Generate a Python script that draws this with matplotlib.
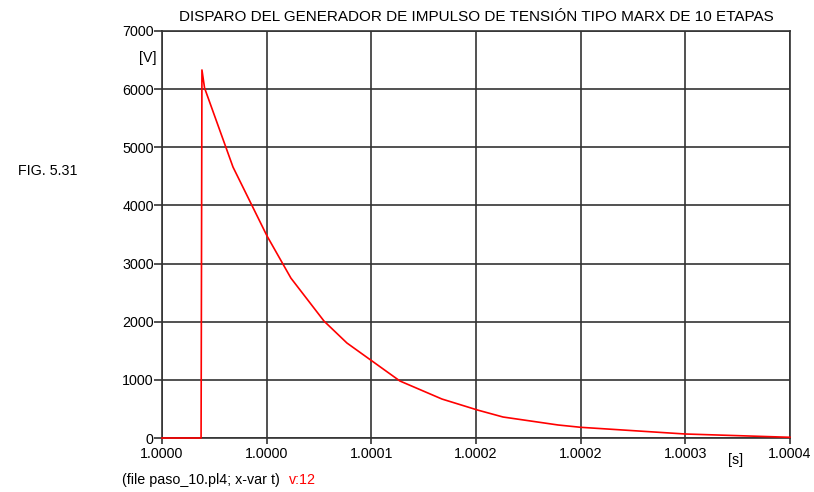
import matplotlib.pyplot as plt

plt.rcParams['font.family'] = ['Liberation Sans', 'DejaVu Sans']

# tiempo relativo (us desde el inicio de la ventana) y tension [V]
t_us = [0, 22.4, 22.9, 24.4, 40.7, 60.2, 73.9, 92.9, 106.0, 136.4, 160.5, 181.0,
        195.5, 227.0, 240.0, 299.8, 360.0]
v_volt = [0, 0, 6330, 6020, 4660, 3475, 2750, 2010, 1634, 980, 670, 480,
          361, 224, 184, 69, 12]

x_ticks = [0, 60, 120, 180, 240, 300, 360]
x_labels = ['1.0000', '1.0000', '1.0001', '1.0002', '1.0002', '1.0003', '1.0004']
y_ticks = [0, 1000, 2000, 3000, 4000, 5000, 6000, 7000]

title = 'DISPARO DEL GENERADOR DE IMPULSO DE TENSIÓN TIPO MARX DE 10 ETAPAS'

fig = plt.figure(figsize=(8.14, 4.92), dpi=100)
ax = fig.add_axes([162 / 814, 1 - 438 / 492, (790 - 162) / 814, (438 - 31) / 492])

ax.plot(t_us, v_volt, color='#ff0000', lw=1.2, zorder=3, clip_on=False)

ax.set_xlim(0, 360)
ax.set_ylim(0, 7000)
ax.set_xticks(x_ticks)
ax.set_xticklabels(x_labels)
ax.set_yticks(y_ticks)
ax.grid(True, color='#333333', lw=1.2)
for s in ax.spines.values():
    s.set_color('#333333')
    s.set_linewidth(1.2)
ax.tick_params(axis='x', direction='out', length=4.5, width=1.2, color='#333333',
               labelsize=10.3, pad=2)
ax.tick_params(axis='y', direction='out', length=5.5, width=1.2, color='#333333',
               labelsize=10.3, pad=0.5)

fig.text(476.5 / 814, 1 - 17 / 492, title, ha='center', va='center', fontsize=11)
fig.text(156 / 814, 1 - 58 / 492, '[V]', ha='right', va='center', fontsize=10.3)
fig.text(736 / 814, 1 - 460 / 492, '[s]', ha='center', va='center', fontsize=10.3)
fig.text(77 / 814, 1 - 171 / 492, 'FIG. 5.31', ha='right', va='center', fontsize=10.3)
fig.text(122 / 814, 1 - 480 / 492, '(file paso_10.pl4; x-var t)', ha='left', va='center',
         fontsize=10.3)
fig.text(289 / 814, 1 - 480 / 492, 'v:12', ha='left', va='center', fontsize=10.3,
         color='#ff0000')

fig.savefig('out.png', dpi=100)
